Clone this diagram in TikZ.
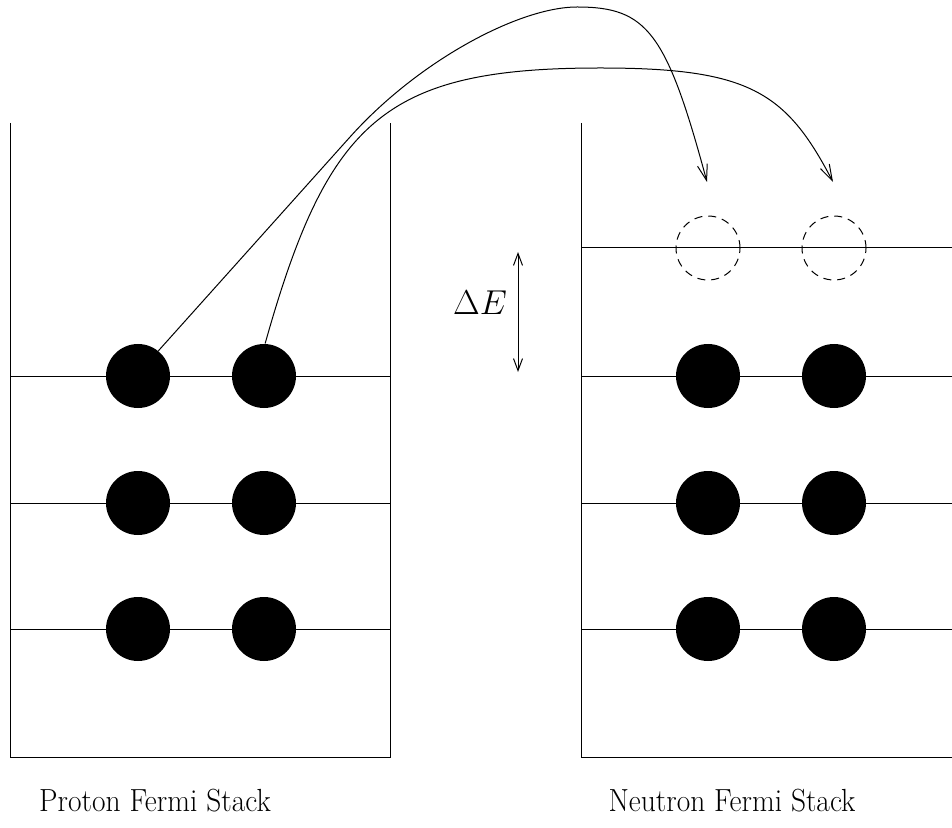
\documentclass[tikz,border=0pt]{standalone}
\usetikzlibrary{arrows.meta}
\begin{document}
\begin{tikzpicture}[x=0.5pt,y=-0.5pt,line width=0.5pt,
  filled/.style={circle,fill=black,inner sep=0pt,minimum size=32pt},
  hole/.style={circle,draw,dash pattern=on 4pt off 3pt,inner sep=0pt,minimum size=32pt},
  jump/.style={-{Straight Barb[length=8pt,width=5pt]}},
  gap/.style={{Straight Barb[length=6pt,width=4.5pt]}-{Straight Barb[length=6pt,width=4.5pt]}},
  caption/.style={font=\fontsize{16}{19}\selectfont}]
\useasboundingbox (0,0) rectangle (952,828);

% proton stack: open box and three filled levels
\draw (10,123) -- (10,757) -- (390,757) -- (390,123);
\foreach \y in {376,503,629} \draw (10,\y) -- (390,\y);

% neutron stack: open box, extra empty level on top
\draw (581,123) -- (581,757) -- (952,757);
\foreach \y in {248,376,503,629} \draw (581,\y) -- (952,\y);

% occupied states
\node[filled] (p1) at (138,376) {};
\node[filled] (p2) at (264,376) {};
\node[filled] (p3) at (138,503) {};
\node[filled] (p4) at (264,503) {};
\node[filled] (p5) at (138,629) {};
\node[filled] (p6) at (264,629) {};
\node[filled] (n1) at (708,376) {};
\node[filled] (n2) at (834,376) {};
\node[filled] (n3) at (708,503) {};
\node[filled] (n4) at (834,503) {};
\node[filled] (n5) at (708,629) {};
\node[filled] (n6) at (834,629) {};

% empty states
\node[hole] (h1) at (708,248) {};
\node[hole] (h2) at (834,248) {};

% transitions from the top proton level into the empty neutron level
\coordinate (t1) at (707,182);
\coordinate (t2) at (833,182);
\draw[jump] (p1.51) -- (350,137)
   .. controls (419,60) and (520,7) .. (577,7)
   .. controls (647,7) and (666.5,32) .. (t1);
\draw[jump] (p2.88) .. controls (328,120) and (385,68) .. (600,68)
   .. controls (748,68) and (785.7,91) .. (t2);

% energy gap
\coordinate (gtop) at (518,252);
\coordinate (gbot) at (518,372);
\draw[gap] (gtop) -- (gbot);
\node[caption] (dE) at (480,303) {$\Delta E$};

% captions
\node[caption] (lp) at (155,801) {\scalebox{0.92}[1]{Proton Fermi Stack}};
\node[caption] (ln) at (732,801) {\scalebox{0.92}[1]{Neutron Fermi Stack}};
\end{tikzpicture}
\end{document}
